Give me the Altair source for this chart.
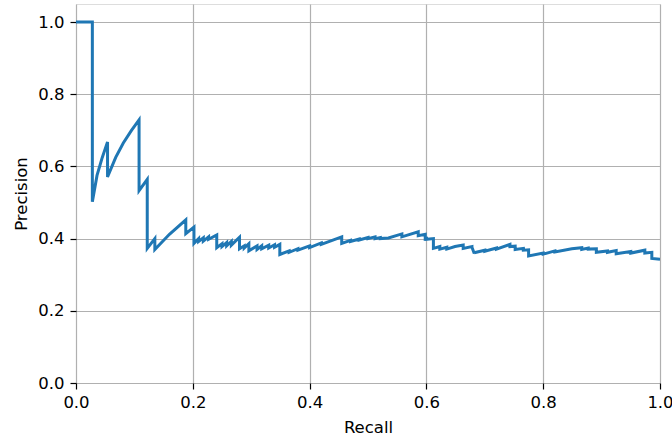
import altair as alt
import pandas as pd

recall = [
    0.0, 0.028, 0.028, 0.036, 0.045, 0.054, 0.054, 0.068, 0.081, 0.095, 0.108,
    0.108, 0.122, 0.122, 0.135, 0.135, 0.160, 0.188, 0.188, 0.202, 0.202,
    0.210, 0.210, 0.218, 0.218, 0.227, 0.227, 0.241, 0.241,
    0.250, 0.250, 0.258, 0.258, 0.266, 0.266, 0.280, 0.280,
    0.288, 0.288, 0.296, 0.296, 0.310, 0.310,
    0.318, 0.318, 0.330, 0.330, 0.340, 0.340, 0.349, 0.349,
    0.365, 0.365, 0.380, 0.380, 0.400, 0.400, 0.420, 0.420, 0.455, 0.455,
    0.470, 0.470, 0.485, 0.485, 0.500, 0.500, 0.512, 0.512, 0.521, 0.521,
    0.535, 0.558, 0.558, 0.586, 0.586, 0.598, 0.598, 0.600, 0.600, 0.612, 0.612,
    0.623, 0.623, 0.635, 0.635, 0.649, 0.663, 0.663, 0.678, 0.678,
    0.682, 0.682, 0.700, 0.700, 0.720, 0.720, 0.743, 0.743, 0.752, 0.752,
    0.766, 0.766, 0.775, 0.775, 0.800, 0.800, 0.820, 0.820, 0.849, 0.866,
    0.866, 0.877, 0.877, 0.891, 0.891, 0.910, 0.910, 0.925, 0.925, 0.950, 0.950, 0.974,
    0.974, 0.986, 0.986, 1.0,
]
precision = [
    1.0, 1.0, 0.502, 0.575, 0.625, 0.668, 0.571, 0.625, 0.665, 0.700, 0.729,
    0.533, 0.564, 0.373, 0.400, 0.370, 0.412, 0.452, 0.414, 0.432, 0.387,
    0.400, 0.392, 0.402, 0.393, 0.405, 0.398, 0.410, 0.375,
    0.386, 0.378, 0.389, 0.380, 0.392, 0.382, 0.404, 0.372,
    0.380, 0.374, 0.386, 0.366, 0.380, 0.370,
    0.380, 0.372, 0.382, 0.374, 0.383, 0.376, 0.384, 0.356,
    0.366, 0.362, 0.372, 0.368, 0.380, 0.375, 0.388, 0.384, 0.405, 0.387,
    0.395, 0.392, 0.399, 0.396, 0.403, 0.400, 0.405, 0.400, 0.403, 0.400,
    0.402, 0.413, 0.405, 0.419, 0.408, 0.412, 0.399, 0.400, 0.398, 0.400, 0.373,
    0.378, 0.371, 0.376, 0.371, 0.378, 0.382, 0.373, 0.378, 0.376,
    0.359, 0.361, 0.368, 0.365, 0.374, 0.371, 0.384, 0.378, 0.379, 0.370,
    0.373, 0.368, 0.369, 0.352, 0.360, 0.357, 0.366, 0.363, 0.372, 0.375,
    0.370, 0.374, 0.371, 0.372, 0.362, 0.366, 0.362, 0.367, 0.358, 0.364, 0.360, 0.368,
    0.360, 0.362, 0.345, 0.343,
]

df = pd.DataFrame({"recall": recall, "precision": precision, "i": range(len(recall))})

ticks = [0.0, 0.2, 0.4, 0.6, 0.8, 1.0]

axis_common = dict(
    values=ticks,
    format=".1f",
    grid=True,
    gridColor="#b0b0b0",
    gridWidth=1.2,
    domain=False,
    tickColor="black",
    tickSize=6,
    tickWidth=1.2,
    labelFont="DejaVu Sans",
    labelFontSize=16.5,
    labelColor="black",
    labelFlush=False,
    labelOverlap=False,
    titleFont="DejaVu Sans",
    titleFontSize=16.5,
    titleFontWeight="normal",
    titleColor="black",
)

chart = (
    alt.Chart(df)
    .mark_line(color="#1f77b4", strokeWidth=3, clip=True)
    .encode(
        x=alt.X("recall:Q", title="Recall", scale=alt.Scale(domain=[0, 1], nice=False),
                axis=alt.Axis(labelPadding=5, titlePadding=9, **axis_common)),
        y=alt.Y("precision:Q", title="Precision", scale=alt.Scale(domain=[0, 1.05], nice=False),
                axis=alt.Axis(labelPadding=6, titlePadding=8, **axis_common)),
        order=alt.Order("i:Q"),
    )
    .properties(
        width=584,
        height=379,
        autosize=alt.AutoSizeParams(type="none"),
        padding={"left": 76, "top": 4, "right": 12, "bottom": 56},
    )
    .configure_view(stroke="black", strokeWidth=1.2)
    .configure(background="white")
)

chart.save("out.html", embed_options={"renderer": "svg", "actions": False})
